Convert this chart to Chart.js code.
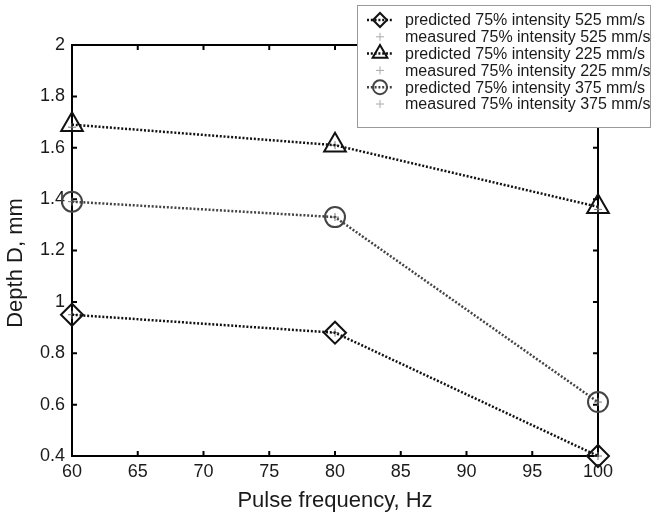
<!DOCTYPE html>
<html>
<head>
<meta charset="utf-8">
<script src="https://cdn.jsdelivr.net/npm/chart.js@4/dist/chart.umd.min.js"></script>
<style>
html, body { margin: 0; padding: 0; background: #fff; }
</style>
</head>
<body>
<canvas id="grafico" width="654" height="518"></canvas>
<script>
// valores
const frequencias = [60, 80, 100];
const previsto525 = [0.95, 0.88, 0.40];
const medido525 = [0.95, 0.88, 0.40];
const previsto225 = [1.69, 1.61, 1.37];
const medido225 = [1.68, 1.61, 1.36];
const previsto375 = [1.39, 1.33, 0.61];
const medido375 = [1.39, 1.33, 0.61];
const rotulos = [
    'predicted 75% intensity 525 mm/s',
    'measured 75% intensity 525 mm/s',
    'predicted 75% intensity 225 mm/s',
    'measured 75% intensity 225 mm/s',
    'predicted 75% intensity 375 mm/s',
    'measured 75% intensity 375 mm/s'
];
const ticksX = [60, 65, 70, 75, 80, 85, 90, 95, 100];
const ticksY = [0.4, 0.6, 0.8, 1, 1.2, 1.4, 1.6, 1.8, 2];

const FONTE = "'Liberation Sans', Arial, Helvetica, sans-serif";

function pontos(valores) {
    return frequencias.map((f, i) => ({ x: f, y: valores[i] }));
}

function previsto(label, valores, estilo, raio, cor) {
    return {
        label, data: pontos(valores), showLine: true, clip: false,
        borderColor: cor, borderWidth: 2.5, borderDash: [2, 1.8],
        pointStyle: estilo, pointRadius: raio, pointHoverRadius: raio,
        pointBorderColor: cor, pointBackgroundColor: 'rgba(0,0,0,0)', pointBorderWidth: 2
    };
}

function medido(label, valores) {
    return {
        label, data: pontos(valores), showLine: false, clip: false,
        pointStyle: 'cross', pointRadius: 4, pointHoverRadius: 4,
        pointBorderColor: '#777', pointBorderWidth: 1
    };
}

function desenharMarcador(ctx, estilo, x, y, r) {
    ctx.beginPath();
    if (estilo === 'rectRot') {
        ctx.moveTo(x - r, y); ctx.lineTo(x, y - r); ctx.lineTo(x + r, y); ctx.lineTo(x, y + r); ctx.closePath();
    } else if (estilo === 'triangle') {
        for (let k = 0; k < 3; k++) {
            const ang = k * 2 * Math.PI / 3;
            const px = x + Math.sin(ang) * r, py = y - Math.cos(ang) * r;
            k === 0 ? ctx.moveTo(px, py) : ctx.lineTo(px, py);
        }
        ctx.closePath();
    } else if (estilo === 'circle') {
        ctx.arc(x, y, r, 0, Math.PI * 2);
    } else {
        ctx.moveTo(x - r, y); ctx.lineTo(x + r, y); ctx.moveTo(x, y - r); ctx.lineTo(x, y + r);
    }
    ctx.stroke();
}

const moldura = {
    id: 'moldura',
    beforeDatasetsDraw(chart) {
        const { ctx, chartArea: a, scales } = chart;
        ctx.save();
        ctx.strokeStyle = '#000';
        ctx.lineWidth = 2;
        ctx.strokeRect(a.left, a.top, a.right - a.left, a.bottom - a.top);
        ctx.beginPath();
        ticksY.forEach(v => {
            const y = scales.y.getPixelForValue(v);
            ctx.moveTo(a.left, y); ctx.lineTo(a.left + 5, y);
            ctx.moveTo(a.right, y); ctx.lineTo(a.right - 5, y);
        });
        ticksX.forEach(v => {
            const x = scales.x.getPixelForValue(v);
            ctx.moveTo(x, a.bottom); ctx.lineTo(x, a.bottom - 5);
            ctx.moveTo(x, a.top); ctx.lineTo(x, a.top + 5);
        });
        ctx.stroke();

        // título do eixo y
        ctx.fillStyle = '#1a1a1a';
        ctx.font = '22px ' + FONTE;
        ctx.textAlign = 'center';
        ctx.textBaseline = 'middle';
        ctx.translate(16, 263);
        ctx.rotate(-Math.PI / 2);
        ctx.fillText('Depth D, mm', 0, 0);
        ctx.restore();
    }
};

const legenda = {
    id: 'legenda',
    afterDraw(chart) {
        const ctx = chart.ctx;
        const caixa = { x: 357.5, y: 5.5, w: 293, h: 122 };
        ctx.save();
        ctx.fillStyle = '#fff';
        ctx.fillRect(caixa.x, caixa.y, caixa.w, caixa.h);
        ctx.strokeStyle = '#999';
        ctx.lineWidth = 1;
        ctx.strokeRect(caixa.x, caixa.y, caixa.w, caixa.h);
        ctx.font = '16px ' + FONTE;
        ctx.textBaseline = 'middle';
        ctx.textAlign = 'left';
        chart.data.datasets.forEach((ds, i) => {
            const y = 20 + i * 16.8;
            const mx = 380;
            if (ds.showLine) {
                ctx.strokeStyle = ds.borderColor;
                ctx.lineWidth = 2.5;
                ctx.setLineDash([2, 1.8]);
                ctx.beginPath();
                ctx.moveTo(367, y); ctx.lineTo(393, y);
                ctx.stroke();
                ctx.setLineDash([]);
                ctx.lineWidth = 2;
                desenharMarcador(ctx, ds.pointStyle, mx, y, ds.pointStyle === 'triangle' ? 8.5 : 7);
            } else {
                ctx.strokeStyle = '#aaa';
                ctx.lineWidth = 1;
                desenharMarcador(ctx, 'cross', mx, y, 4);
            }
            ctx.fillStyle = '#1a1a1a';
            ctx.fillText(ds.label, 405, y + 1);
        });
        ctx.restore();
    }
};

new Chart(document.getElementById('grafico'), {
    type: 'scatter',
    data: {
        datasets: [
            previsto(rotulos[0], previsto525, 'rectRot', 11, '#111'),
            medido(rotulos[1], medido525),
            previsto(rotulos[2], previsto225, 'triangle', 12.5, '#111'),
            medido(rotulos[3], medido225),
            previsto(rotulos[4], previsto375, 'circle', 10, '#444'),
            medido(rotulos[5], medido375)
        ]
    },
    options: {
        responsive: false,
        animation: false,
        events: [],
        layout: { padding: { top: 45, right: 56, left: 0, bottom: 0 } },
        plugins: { legend: { display: false }, tooltip: { enabled: false } },
        scales: {
            x: {
                type: 'linear', min: 60, max: 100,
                afterFit: s => { s.height = 62; },
                afterBuildTicks: s => { s.ticks = ticksX.map(v => ({ value: v })); },
                grid: { display: false, drawTicks: false },
                border: { display: false },
                ticks: { color: '#1a1a1a', padding: 5, font: { family: FONTE, size: 18 }, maxRotation: 0 },
                title: { display: true, text: 'Pulse frequency, Hz', color: '#1a1a1a', padding: { top: 0, bottom: 4 }, font: { family: FONTE, size: 22 } }
            },
            y: {
                type: 'linear', min: 0.4, max: 2,
                afterFit: s => { s.width = 72; },
                afterBuildTicks: s => { s.ticks = ticksY.map(v => ({ value: v })); },
                grid: { display: false, drawTicks: false },
                border: { display: false },
                ticks: { color: '#1a1a1a', padding: 7, font: { family: FONTE, size: 18 }, callback: v => String(Number(v.toFixed(1))) }
            }
        }
    },
    plugins: [moldura, legenda]
});
</script>
</body>
</html>
